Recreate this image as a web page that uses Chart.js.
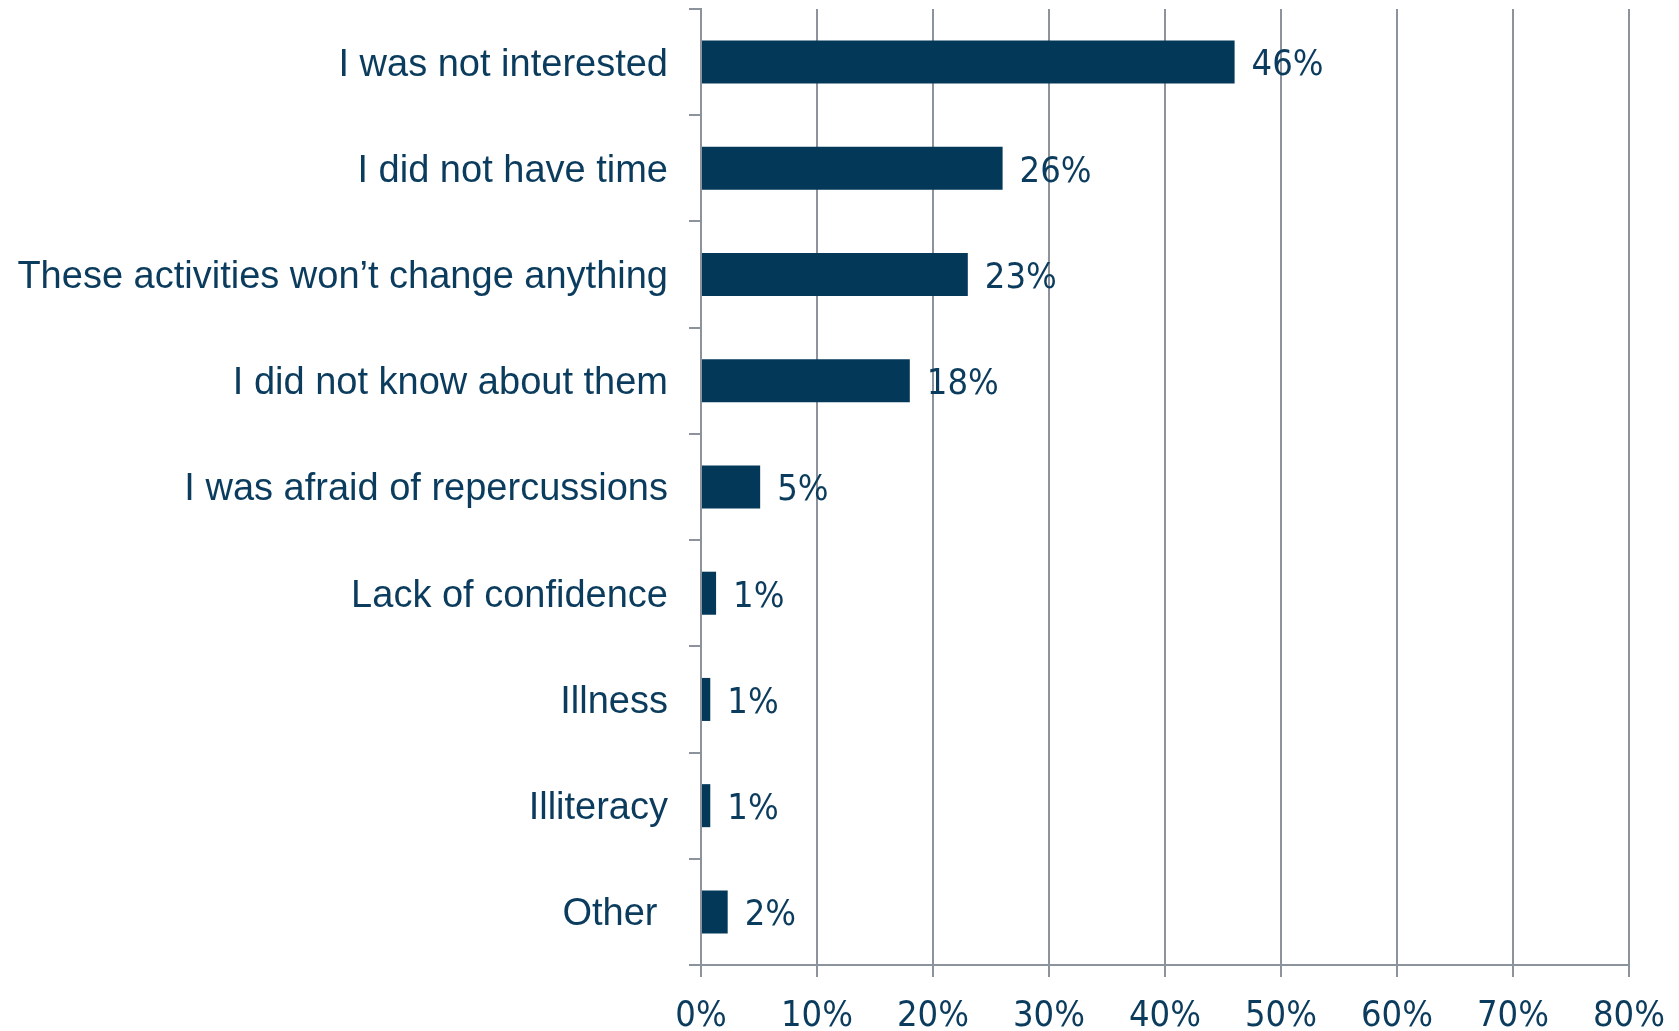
<!DOCTYPE html>
<html>
<head>
<meta charset="utf-8">
<script src="https://cdn.jsdelivr.net/npm/chart.js@4/dist/chart.umd.min.js"></script>
<style>
html,body{margin:0;padding:0;background:#ffffff;}
#wrap{width:1679px;height:1031px;}
</style>
</head>
<body>
<div id="wrap"><canvas id="c" width="1679" height="1031"></canvas></div>
<script>
const categories = [
  "I was not interested",
  "I did not have time",
  "These activities won\u2019t change anything",
  "I did not know about them",
  "I was afraid of repercussions",
  "Lack of confidence",
  "Illness",
  "Illiteracy",
  "Other "
];
const values = [46, 26, 23, 18, 5.1, 1.3, 0.8, 0.8, 2.3];
const valueLabels = ["46%", "26%", "23%", "18%", "5%", "1%", "1%", "1%", "2%"];
const xTicks = [0, 10, 20, 30, 40, 50, 60, 70, 80];

const TEXT = "#0b3c5d";
const BAR = "#033859";
const GRID = "#8c939d";
const NUMFONT = "'Liberation Sans Narrow', 'DejaVu Sans Condensed', sans-serif";
const LABFONT = "'Liberation Sans', Arial, sans-serif";

const valueLabelPlugin = {
  id: 'valueLabels',
  afterDatasetsDraw(chart) {
    const ctx = chart.ctx;
    const meta = chart.getDatasetMeta(0);
    ctx.save();
    ctx.font = "36px " + NUMFONT;
    ctx.fillStyle = TEXT;
    ctx.textAlign = 'left';
    ctx.textBaseline = 'middle';
    meta.data.forEach((bar, i) => {
      ctx.fillText(valueLabels[i], bar.x + 17, bar.y + 4);
    });
    ctx.restore();
  }
};

new Chart(document.getElementById('c'), {
  type: 'bar',
  data: {
    labels: categories,
    datasets: [{
      data: values,
      backgroundColor: BAR,
      borderWidth: 0,
      categoryPercentage: 1,
      barPercentage: 0.405
    }]
  },
  options: {
    indexAxis: 'y',
    responsive: false,
    animation: false,
    devicePixelRatio: 1,
    layout: { padding: { top: 9, right: 50, left: 0, bottom: 0 } },
    plugins: { legend: { display: false }, tooltip: { enabled: false } },
    scales: {
      x: {
        min: 0, max: 80,
        afterBuildTicks(scale) { scale.ticks = xTicks.map(v => ({ value: v })); },
        afterFit(scale) { scale.height = 66; scale.paddingLeft = 0; scale.paddingRight = 0; },
        grid: { color: GRID, lineWidth: 2, tickLength: 12, drawOnChartArea: true },
        border: { color: GRID, width: 2 },
        ticks: {
          color: TEXT,
          font: { family: NUMFONT, size: 36 },
          padding: 18,
          maxRotation: 0,
          callback: v => v + "%"
        }
      },
      y: {
        afterFit(scale) { scale.width = 701; scale.paddingTop = 0; scale.paddingBottom = 0; },
        grid: { color: GRID, lineWidth: 2, tickLength: 12, drawOnChartArea: false, offset: true },
        border: { color: GRID, width: 2 },
        ticks: {
          color: TEXT,
          font: { family: LABFONT, size: 38 },
          padding: 21,
          labelOffset: 3,
          autoSkip: false
        }
      }
    }
  },
  plugins: [valueLabelPlugin]
});
</script>
</body>
</html>
